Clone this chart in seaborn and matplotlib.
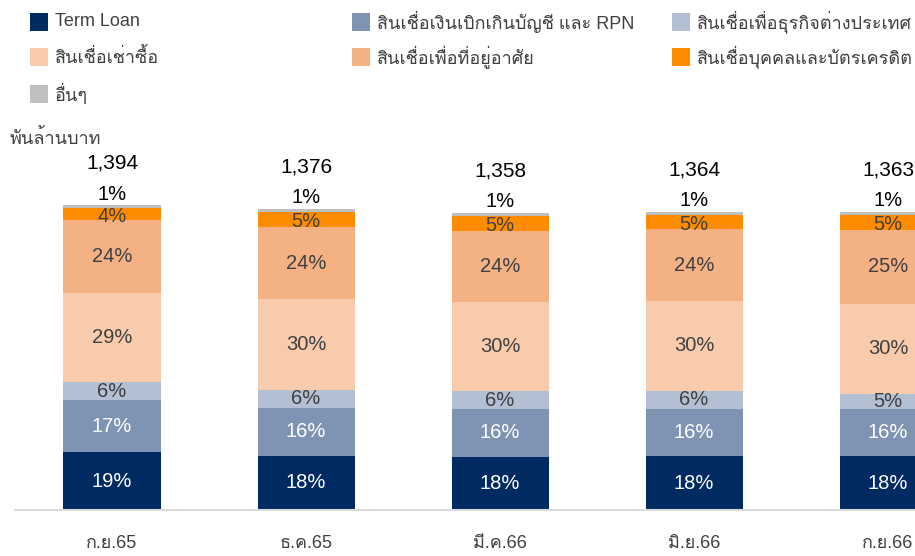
import matplotlib
matplotlib.use("Agg")
import matplotlib.pyplot as plt
from matplotlib import font_manager
from matplotlib.ft2font import FT2Font
from matplotlib.patches import Rectangle
import numpy as np
import pandas as pd
import seaborn as sns

# ข้อมูล
periods = ["ก.ย.65", "ธ.ค.65", "มี.ค.66", "มิ.ย.66", "ก.ย.66"]
totals = [1394, 1376, 1358, 1364, 1363]
segments = [
    "Term Loan",
    "สินเชื่อเงินเบิกเกินบัญชี และ RPN",
    "สินเชื่อเพื่อธุรกิจต่างประเทศ",
    "สินเชื่อเช่าซื้อ",
    "สินเชื่อเพื่อที่อยู่อาศัย",
    "สินเชื่อบุคคลและบัตรเครดิต",
    "อื่นๆ",
]
term_loan = [19, 18, 18, 18, 18]
overdraft_rpn = [17, 16, 16, 16, 16]
foreign_biz = [6, 6, 6, 6, 5]
hire_purchase = [29, 30, 30, 30, 30]
housing = [24, 24, 24, 24, 25]
personal_card = [4, 5, 5, 5, 5]
others = [1, 1, 1, 1, 1]

pct_series = [term_loan, overdraft_rpn, foreign_biz, hire_purchase,
              housing, personal_card, others]
colors = ["#002B62", "#7F93B2", "#B3BFD2", "#F8CBAD", "#F4B183", "#FF8C00", "#BFBFBF"]
label_colors = ["white", "white", "#404040", "#404040", "#404040", "#404040", "#000000"]


def find_thai_family():
    for f in font_manager.fontManager.ttflist:
        try:
            cmap = FT2Font(f.fname).get_charmap()
        except Exception:
            continue
        if 0x0E01 in cmap and 0x0E2A in cmap:
            return f.name
    return None


sns.set_theme(style="white")
thai = find_thai_family()
families = ["Liberation Sans"] + ([thai] if thai else []) + ["DejaVu Sans"]
plt.rcParams["font.family"] = families

W, H = 915, 556
fig = plt.figure(figsize=(W / 100, H / 100), dpi=100)
base_px = 510
ax = fig.add_axes([0, (H - base_px) / H, 1, base_px / H])

px_per_unit = 305 / 1394
unit = 1 / px_per_unit

# ค่าสะสม (สูง = ยอดรวม x สัดส่วน)
pct = np.array(pct_series, dtype=float)
tot = np.array(totals, dtype=float)
seg_vals = pct / pct.sum(axis=0) * tot
cum = np.cumsum(seg_vals, axis=0)

df = pd.DataFrame({"period": periods})
for i in range(len(segments) - 1, -1, -1):
    df["v"] = cum[i]
    sns.barplot(data=df, x="period", y="v", color=colors[i], width=0.5,
                saturation=1, ax=ax, edgecolor="none", linewidth=0,
                order=periods)

ax.set_xlim(-112 / 194, 4 + (W - 888) / 194)
ax.set_ylim(0, base_px * unit)
sns.despine(ax=ax, left=True, bottom=True, top=True, right=True)
ax.set_yticks([])
ax.set_xticks([])
ax.set_xlabel("")
ax.set_ylabel("")
ax.axhline(0, xmin=15 / W, xmax=1, color="#D9D9D9", lw=1.5, clip_on=False)

for j, p in enumerate(periods):
    ax.text(j, -33 * unit, p, ha="center", va="center", fontsize=13, color="#404040")
    for i in range(len(segments)):
        if i == len(segments) - 1:
            y = cum[i, j] + 11 * unit
        else:
            y = cum[i, j] - seg_vals[i, j] / 2
            if i == 5:
                y -= 2 * unit
        ax.text(j, y, f"{pct_series[i][j]}%", ha="center", va="center",
                fontsize=14.5, color=label_colors[i])
    ax.text(j, tot[j] + 42 * unit, f"{totals[j]:,}", ha="center", va="center",
            fontsize=15, color="black")

fig.text(10 / W, 1 - 138 / H, "พันล้านบาท", ha="left", va="center",
         fontsize=13, color="#404040")

# legend (แถวละ 3)
col_x = [30, 352, 672]
row_y = [22, 57, 94]
for k in range(len(segments)):
    r, c = divmod(k, 3)
    x0, yc = col_x[c], row_y[r]
    fig.patches.append(Rectangle((x0 / W, 1 - (yc + 9) / H), 18 / W, 18 / H,
                                 transform=fig.transFigure, facecolor=colors[k],
                                 edgecolor="none"))
    fig.text((x0 + 25) / W, 1 - yc / H, segments[k], ha="left", va="center",
             fontsize=13, color="#404040")

fig.savefig("out.png", dpi=100)
